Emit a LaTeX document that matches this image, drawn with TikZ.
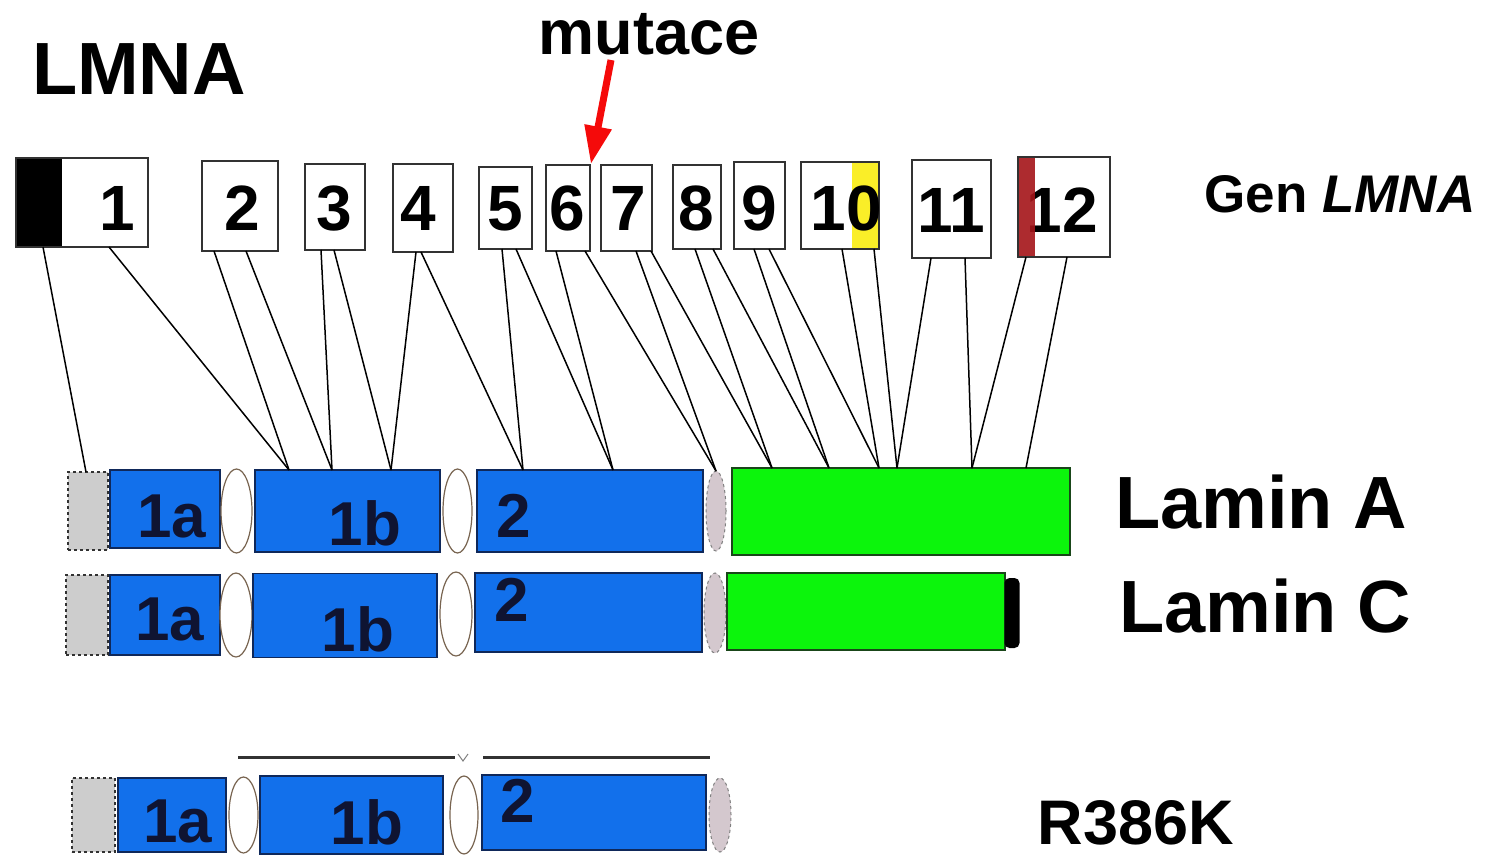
\documentclass[tikz,border=0pt]{standalone}
\usepackage{fontspec}
\setmainfont{Liberation Sans}
\usetikzlibrary{shapes.geometric,arrows.meta}
\definecolor{bluefill}{RGB}{18,112,235}
\definecolor{blueline}{RGB}{15,40,90}
\definecolor{greenfill}{RGB}{12,245,12}
\definecolor{greenline}{RGB}{25,70,25}
\definecolor{grayfill}{RGB}{205,205,205}
\definecolor{grayoval}{RGB}{212,200,206}
\definecolor{exline}{RGB}{50,50,50}
\definecolor{yel}{RGB}{250,238,40}
\definecolor{redbar}{RGB}{165,20,25}
\definecolor{navytxt}{RGB}{15,20,50}
\definecolor{ovalline}{RGB}{120,100,80}
\definecolor{arrowred}{RGB}{245,10,10}
\newcommand\dgfont{\fontsize{64}{64}\selectfont\bfseries}
\newcommand\pfont{\fontsize{62}{62}\selectfont\bfseries}
\begin{document}
\begin{tikzpicture}[x=1pt,y=-1pt,
  exon/.style={draw=exline,line width=1.8pt,fill=white,rectangle,inner sep=0pt},
  dig/.style={inner sep=0pt,anchor=base,font=\dgfont,text=black},
  blu/.style={draw=blueline,line width=1.6pt,fill=bluefill,rectangle,inner sep=0pt},
  grn/.style={draw=greenline,line width=1.8pt,fill=greenfill,rectangle,inner sep=0pt},
  gbox/.style={draw=exline,dashed,line width=1.4pt,fill=grayfill,rectangle,inner sep=0pt},
  oval/.style={draw=ovalline,line width=1.2pt,fill=white,ellipse,inner sep=0pt},
  goval/.style={draw=gray,dashed,line width=1pt,fill=grayoval,ellipse,inner sep=0pt},
  plab/.style={inner sep=0pt,anchor=base,font=\pfont,text=navytxt},
  conn/.style={draw=black,line width=1.5pt},
  title/.style={inner sep=0pt,anchor=base,text=black}]
\useasboundingbox (0,0) rectangle (1488,856);
\fill[white] (0,0) rectangle (1488,856);

% ---------- titles ----------
\node[title,font=\fontsize{74}{74}\selectfont\bfseries] (lmna) at (139,95) {LMNA};
\node[title,font=\fontsize{63}{63}\selectfont\bfseries] (mut) at (649,55) {mutace};
\node[title,font=\fontsize{53}{53}\selectfont\bfseries] (gen) at (1340,212) {Gen \textit{LMNA}};
\node[title,font=\fontsize{74}{74}\selectfont\bfseries] (lamA) at (1261,528) {Lamin A};
\node[title,font=\fontsize{74}{74}\selectfont\bfseries] (lamC) at (1265,632) {Lamin C};
\node[title,font=\fontsize{63}{63}\selectfont\bfseries] (rk) at (1136,844) {R386K};

% ---------- gene exons ----------
\node[exon,minimum width=132pt,minimum height=89pt] (e1) at (82,202.5) {};
\fill[black] (17,159) rectangle (62,246);
\draw[exline,line width=1.8pt] (16,158) rectangle (148,247);
\node[exon,minimum width=76pt,minimum height=90pt] (e2) at (240,206) {};
\node[exon,minimum width=60pt,minimum height=86pt] (e3) at (335,207) {};
\node[exon,minimum width=60pt,minimum height=88pt] (e4) at (423,208) {};
\node[exon,minimum width=53pt,minimum height=82pt] (e5) at (505.5,208) {};
\node[exon,minimum width=44pt,minimum height=86pt] (e6) at (568,208) {};
\node[exon,minimum width=51pt,minimum height=86pt] (e7) at (626.5,208) {};
\node[exon,minimum width=48pt,minimum height=84pt] (e8) at (697,207) {};
\node[exon,minimum width=51pt,minimum height=87pt] (e9) at (759.5,205.5) {};
\node[exon,minimum width=78pt,minimum height=87pt] (e10) at (840,205.5) {};
\fill[yel] (852,163) rectangle (878,248);
\draw[exline,line width=1.8pt] (801,162) rectangle (879,249);
\node[exon,minimum width=79pt,minimum height=98pt] (e11) at (951.5,209) {};
\node[exon,minimum width=92pt,minimum height=100pt] (e12) at (1064,207) {};

\node[dig] (d1) at (117,230) {1};
\node[dig] (d2) at (242,230) {2};
\node[dig] (d3) at (334,230) {3};
\node[dig] (d4) at (418,230) {4};
\node[dig] (d5) at (505,230) {5};
\node[dig] (d6) at (567,230) {6};
\node[dig] (d7) at (628,230) {7};
\node[dig] (d8) at (696,230) {8};
\node[dig] (d9) at (759,230) {9};
\node[dig] (d10) at (846,230) {10};
\node[dig] (d11) at (951,232) {11};
\node[dig] (d12) at (1062,232) {12};
\fill[redbar,opacity=0.9] (1019,158) rectangle (1035,256);
\draw[exline,line width=1.8pt] (1018,157) rectangle (1110,257);

% ---------- mutation arrow ----------
\coordinate (mtail) at (611,60);
\draw[arrowred,line width=7pt,-{Triangle[length=38pt,width=26pt]}] (mtail) -- (e6.north east);

% ---------- Lamin A ----------
\node[gbox,minimum width=40pt,minimum height=78pt] (ga) at (88,511) {};
\node[blu,minimum width=110pt,minimum height=78pt] (a1a) at (165,509) {};
\node[oval,minimum width=31pt,minimum height=84pt] (ao1) at (236.5,511) {};
\node[blu,minimum width=185pt,minimum height=82pt] (a1b) at (347.5,511) {};
\node[oval,minimum width=29pt,minimum height=84pt] (ao2) at (457.5,511) {};
\node[blu,minimum width=226pt,minimum height=82pt] (a2) at (590,511) {};
\node[goval,minimum width=20pt,minimum height=80pt] (ao3) at (716,511) {};
\node[grn,minimum width=338pt,minimum height=87pt] (agr) at (901,511.5) {};
\node[plab] (la1) at (172,537) {1a};
\node[plab] (la2) at (365,545) {1b};
\node[plab] (la3) at (514,537) {2};

% ---------- Lamin C ----------
\node[gbox,minimum width=42pt,minimum height=80pt] (gc) at (87,615) {};
\node[blu,minimum width=110pt,minimum height=80pt] (c1a) at (165,615) {};
\node[oval,minimum width=32pt,minimum height=84pt] (co1) at (236,615) {};
\node[blu,minimum width=184pt,minimum height=84pt] (c1b) at (345,615.5) {};
\node[oval,minimum width=32pt,minimum height=84pt] (co2) at (456,614) {};
\node[blu,minimum width=227pt,minimum height=79pt] (c2) at (588.5,612.5) {};
\node[goval,minimum width=22pt,minimum height=80pt] (co3) at (715,613) {};
\node[grn,minimum width=278pt,minimum height=77pt] (cgr) at (866,611.5) {};
\node[fill=black,rounded corners=5pt,inner sep=0pt,minimum width=15pt,minimum height=70pt] (ccap) at (1012,613) {};
\node[plab] (lc1) at (170,640) {1a};
\node[plab] (lc2) at (358,651) {1b};
\node[plab] (lc3) at (512,621) {2};

% ---------- R386K ----------
\coordinate (r1) at (238,757);
\coordinate (r2) at (455,757);
\coordinate (r3) at (483,757);
\coordinate (r4) at (710,757);
\draw[exline,line width=3pt] (r1) -- (r2);
\draw[exline,line width=3pt] (r3) -- (r4);
\draw[gray,line width=1pt] (458,754) -- (463,761) -- (468,754);
\node[gbox,minimum width=43pt,minimum height=74pt] (gr) at (93.5,815) {};
\node[blu,minimum width=108pt,minimum height=74pt] (r1a) at (172,815) {};
\node[oval,minimum width=29pt,minimum height=76pt] (ro1) at (243.5,815) {};
\node[blu,minimum width=183pt,minimum height=78pt] (r1b) at (351.5,815) {};
\node[oval,minimum width=28pt,minimum height=78pt] (ro2) at (464,815) {};
\node[blu,minimum width=224pt,minimum height=75pt] (r2b) at (594,812.5) {};
\node[goval,minimum width=22pt,minimum height=74pt] (ro3) at (720,815) {};
\node[plab] (lr1) at (178,842) {1a};
\node[plab] (lr2) at (367,844) {1b};
\node[plab] (lr3) at (518,822) {2};

% ---------- connector end points ----------
\coordinate (p1a) at (43,247);   \coordinate (p1b) at (109,247);
\coordinate (p2a) at (214,251);  \coordinate (p2b) at (246,251);
\coordinate (p3a) at (321,250);  \coordinate (p3b) at (334,250);
\coordinate (p4a) at (416,252);  \coordinate (p4b) at (421,252);
\coordinate (p5a) at (502,249);  \coordinate (p5b) at (516,249);
\coordinate (p6a) at (556,251);  \coordinate (p6b) at (585,251);
\coordinate (p7a) at (636,251);  \coordinate (p7b) at (651,251);
\coordinate (p8a) at (695,249);  \coordinate (p8b) at (713,249);
\coordinate (p9a) at (754,249);  \coordinate (p9b) at (769,249);
\coordinate (p10a) at (842,249); \coordinate (p10b) at (874,249);
\coordinate (p11a) at (931,258); \coordinate (p11b) at (965,258);
\coordinate (p12a) at (1026,257);\coordinate (p12b) at (1067,257);
\coordinate (b0) at (86,472);
\coordinate (b1) at (289,470);
\coordinate (b2) at (332,470);
\coordinate (b3) at (391,470);
\coordinate (b4) at (523,470);
\coordinate (b5) at (613,470);
\coordinate (b6) at (716,471);
\coordinate (b7) at (772,468);
\coordinate (b8) at (829,468);
\coordinate (b9) at (879,468);
\coordinate (b10) at (897,468);
\coordinate (b11) at (972,468);
\coordinate (b12) at (1026,468);

\draw[conn] (p1a) -- (b0);
\draw[conn] (p1b) -- (b1);  \draw[conn] (p2a) -- (b1);
\draw[conn] (p2b) -- (b2);  \draw[conn] (p3a) -- (b2);
\draw[conn] (p3b) -- (b3);  \draw[conn] (p4a) -- (b3);
\draw[conn] (p4b) -- (b4);  \draw[conn] (p5a) -- (b4);
\draw[conn] (p5b) -- (b5);  \draw[conn] (p6a) -- (b5);
\draw[conn] (p6b) -- (b6);  \draw[conn] (p7a) -- (b6);
\draw[conn] (p7b) -- (b7);  \draw[conn] (p8a) -- (b7);
\draw[conn] (p8b) -- (b8);  \draw[conn] (p9a) -- (b8);
\draw[conn] (p9b) -- (b9);  \draw[conn] (p10a) -- (b9);
\draw[conn] (p10b) -- (b10); \draw[conn] (p11a) -- (b10);
\draw[conn] (p11b) -- (b11); \draw[conn] (p12a) -- (b11);
\draw[conn] (p12b) -- (b12);
\end{tikzpicture}
\end{document}
